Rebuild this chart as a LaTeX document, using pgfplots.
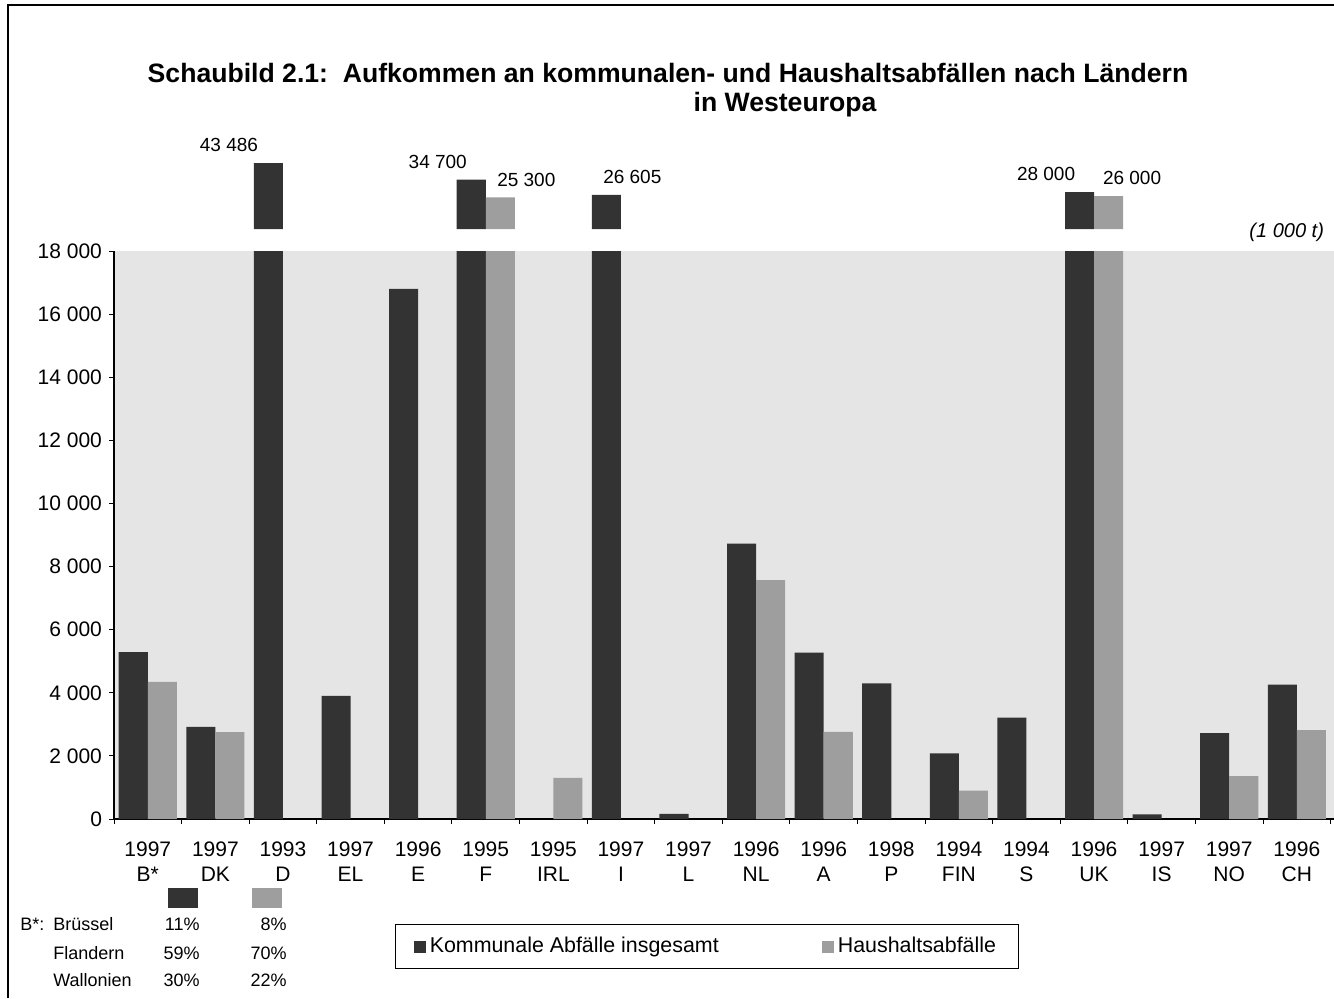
\documentclass[border=0pt]{standalone}
\usepackage{fontspec}
\setmainfont{Liberation Sans}
\usepackage{pgfplots}
\usepackage{pgfplotstable}
\pgfplotsset{compat=1.18}
\definecolor{kdark}{gray}{0.2}
\definecolor{hlight}{gray}{0.62}
\definecolor{bgfill}{gray}{0.9}

\pgfplotstableread{
x  k      h      dk     dh
0  5290   4350   0      0
1  2920   2750   0      0
2  43486  nan    -27    0
3  3900   nan    0      0
4  16800  nan    0      0
5  34700  25300  -24    20.3
6  nan    1300   0      0
7  26605  nan    5.7    0
8  160    nan    0      0
9  8730   7570   0      0
10 5270   2760   0      0
11 4300   nan    0      0
12 2080   900    0      0
13 3210   nan    0      0
14 28000  26000  -24    19
15 150    nan    0      0
16 2720   1360   0      0
17 4260   2820   0      0
}\wastedata

\begin{document}
\begin{tikzpicture}
\useasboundingbox (0pt,0pt) rectangle (667pt,-499pt);
\draw[line width=1pt] (4pt,-499pt) -- (4pt,-2.5pt) -- (667pt,-2.5pt);
\node[font=\fontsize{13.3}{15}\selectfont\bfseries] at (334pt,-36.5pt) {Schaubild 2.1:\ \ Aufkommen an kommunalen- und Haushaltsabfällen nach Ländern};
\node[font=\fontsize{13.3}{15}\selectfont\bfseries] at (392.5pt,-52.5pt) {in Westeuropa};
\node[font=\fontsize{10}{12}\selectfont\itshape, anchor=east] at (665.5pt,-116pt) {(1 000 t)};

% bottom-left table
\fill[kdark] (84pt,-444pt) rectangle (99pt,-454pt);
\fill[hlight] (126pt,-444pt) rectangle (141pt,-454pt);
\begin{scope}[every node/.style={font=\fontsize{9}{10}\selectfont, inner sep=0pt}]
\node[anchor=west] at (10pt,-462pt) {B*:};
\node[anchor=west] at (26.5pt,-462pt) {Brüssel};
\node[anchor=west] at (26.5pt,-476.5pt) {Flandern};
\node[anchor=west] at (26.5pt,-490pt) {Wallonien};
\node[anchor=east] at (100pt,-462pt) {11\%};
\node[anchor=east] at (100pt,-476.5pt) {59\%};
\node[anchor=east] at (100pt,-490pt) {30\%};
\node[anchor=east] at (143.5pt,-462pt) {8\%};
\node[anchor=east] at (143.5pt,-476.5pt) {70\%};
\node[anchor=east] at (143.5pt,-490pt) {22\%};
\end{scope}

\begin{axis}[
  at={(57pt,-409.5pt)}, anchor=south west,
  scale only axis, width=610pt, height=284pt,
  xmin=-0.5, xmax=17.55, ymin=0, ymax=18000,
  axis lines=left, axis line style={-, line width=0.6pt},
  axis background/.style={fill=bgfill},
  tick align=outside, major tick length=2.5pt,
  tick style={black, line width=0.5pt},
  ytick={0,2000,...,18000},
  scaled y ticks=false,
  /pgf/number format/assume math mode=true,
  /pgf/number format/1000 sep={\ },
  xtick={-0.5,0.5,...,17.5}, xticklabels={},
  extra x ticks={0,1,...,17},
  extra x tick labels={{1997\\B*},{1997\\DK},{1993\\D},{1997\\EL},{1996\\E},{1995\\F},{1995\\IRL},{1997\\I},{1997\\L},{1996\\NL},{1996\\A},{1998\\P},{1994\\FIN},{1994\\S},{1996\\UK},{1997\\IS},{1997\\NO},{1996\\CH}},
  extra x tick style={tick style={draw=none}},
  xticklabel style={align=center, font=\fontsize{10.5}{12.5}\selectfont, yshift=-5.5pt},
  yticklabel style={font=\fontsize{10.5}{12.5}\selectfont},
  legend columns=2,
  legend style={at={(0.486,-0.2245)}, anchor=center, draw=black, line width=0.6pt,
    inner xsep=9.25pt, inner ysep=4.5pt, font=\fontsize{10.7}{12}\selectfont,
    /tikz/every even column/.append style={column sep=49.5pt}},
]
\addplot[ybar, bar width=0.43, bar shift=-0.215, fill=kdark, draw=none,
  legend image code/.code={\fill[kdark] (0pt,-3pt) rectangle (6pt,3pt);}]
  table[x=x, y=k] {\wastedata};
\addlegendentry{Kommunale Abfälle insgesamt}
\addplot[ybar, bar width=0.43, bar shift=0.215, fill=hlight, draw=none,
  legend image code/.code={\fill[hlight] (0pt,-3pt) rectangle (6pt,3pt);}]
  table[x=x, y=h] {\wastedata};
\addlegendentry{Haushaltsabfälle}
\end{axis}

\begin{axis}[
  at={(57pt,-114.5pt)}, anchor=south west,
  scale only axis, width=610pt, height=54.5pt,
  xmin=-0.5, xmax=17.55, ymin=8514, ymax=66278,
  hide axis,
  /pgf/number format/assume math mode=true,
  /pgf/number format/1000 sep={\ },
]
\addplot[ybar, bar width=0.43, bar shift=-0.215, fill=kdark, draw=none,
  restrict y to domain=18001:100000,
  visualization depends on={\thisrow{dk} \as \lblshift},
  nodes near coords,
  every node near coord/.append style={font=\fontsize{9.5}{11}\selectfont, text=black, yshift=2pt, xshift=\lblshift pt}]
  table[x=x, y=k] {\wastedata};
\addplot[ybar, bar width=0.43, bar shift=0.215, fill=hlight, draw=none,
  restrict y to domain=18001:100000,
  visualization depends on={\thisrow{dh} \as \lblshift},
  nodes near coords,
  every node near coord/.append style={font=\fontsize{9.5}{11}\selectfont, text=black, yshift=2pt, xshift=\lblshift pt}]
  table[x=x, y=h] {\wastedata};
\end{axis}
\end{tikzpicture}
\end{document}
